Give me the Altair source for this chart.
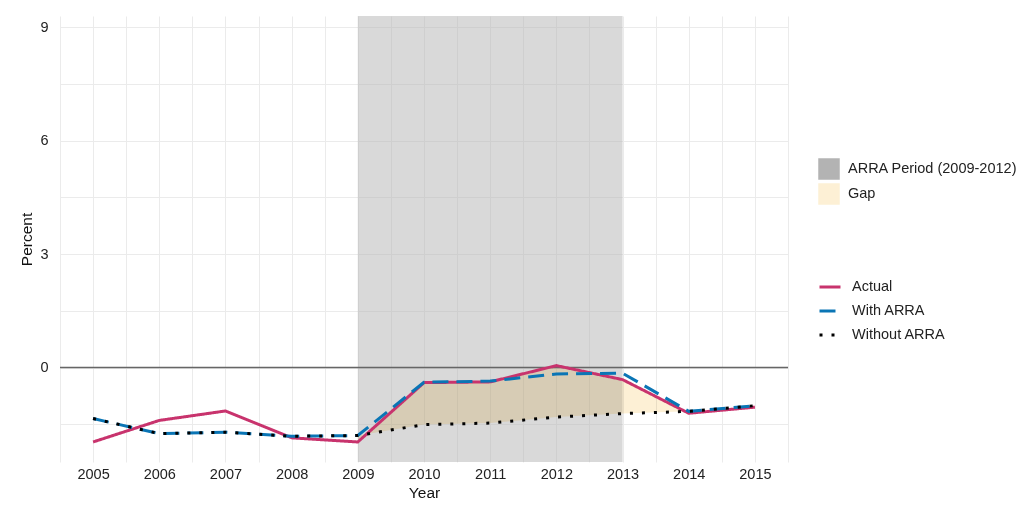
import altair as alt
import pandas as pd

# ---- data ----
years = [2005, 2006, 2007, 2008, 2009, 2010, 2011, 2012, 2013, 2014, 2015]
actual = [-1.97, -1.40, -1.15, -1.86, -1.97, -0.40, -0.38, 0.05, -0.32, -1.21, -1.05]
with_arra = [-1.35, -1.75, -1.71, -1.82, -1.80, -0.39, -0.36, -0.17, -0.15, -1.16, -1.01]
without_arra = [-1.35, -1.75, -1.71, -1.82, -1.80, -1.51, -1.47, -1.31, -1.22, -1.16, -1.01]

series_names = ["Actual", "With ARRA", "Without ARRA"]
series_colors = ["#c8336d", "#0a75b5", "#000000"]
series_dashes = [[1, 0], [16, 8], [3, 9]]

band_names = ["ARRA Period (2009-2012)", "Gap"]
band_colors = ["#b3b3b3", "#fdf0d5"]
arra_start, arra_end = 2009, 2013
gap_from, gap_to = 2009, 2014

x_ticks = [2004.5, 2005, 2005.5, 2006, 2006.5, 2007, 2007.5, 2008, 2008.5, 2009, 2009.5,
           2010, 2010.5, 2011, 2011.5, 2012, 2012.5, 2013, 2013.5, 2014, 2014.5, 2015, 2015.5]
y_ticks = [-1.5, 0, 1.5, 3, 4.5, 6, 7.5, 9]

# ---- tables ----
lines_df = pd.DataFrame(
    [{"year": y, "value": v, "series": name}
     for name, vals in zip(series_names, [actual, with_arra, without_arra])
     for y, v in zip(years, vals)]
)
gap_df = pd.DataFrame(
    [{"year": y, "hi": a, "lo": w, "band": band_names[1]}
     for y, a, w in zip(years, actual, without_arra) if gap_from <= y <= gap_to]
)
rect_df = pd.DataFrame([{"start": arra_start, "end": arra_end, "band": band_names[0]}])

FONT = "Liberation Sans"
W, H = 728, 446

xs = alt.Scale(domain=[2004.5, 2015.5], nice=False, zero=False)
ys = alt.Scale(domain=[-2.5, 9.3], nice=False, zero=False)

xaxis = alt.Axis(values=x_ticks, title="Year",
                 labelExpr="datum.value % 1 === 0 ? toString(datum.value) : ''",
                 labelPadding=5, titlePadding=5)
yaxis = alt.Axis(values=y_ticks, title="Percent",
                 labelExpr="datum.value % 3 === 0 ? datum.label : ''",
                 labelPadding=12, titlePadding=5)

fill_scale = alt.Scale(domain=band_names, range=band_colors)
fill_legend = alt.Legend(orient="none", legendX=758, legendY=142, title=None,
                         symbolType="square", symbolSize=462, symbolOpacity=1,
                         symbolStrokeWidth=0, rowPadding=3, labelOffset=8, padding=0,
                         labelLimit=0)

line_legend = alt.Legend(orient="none", legendX=758, legendY=259, title=None,
                         symbolType="stroke", symbolSize=441, symbolStrokeWidth=3,
                         rowPadding=5, labelOffset=10, padding=0, labelLimit=0)

rect = alt.Chart(rect_df).mark_rect(opacity=0.5).encode(
    x=alt.X("start:Q", scale=xs, axis=xaxis),
    x2="end:Q",
    y=alt.value(0),
    y2=alt.value(H),
    fill=alt.Fill("band:N", scale=fill_scale, legend=fill_legend),
)

gap = alt.Chart(gap_df).mark_area(blend="multiply").encode(
    x=alt.X("year:Q", scale=xs, axis=xaxis),
    y=alt.Y("hi:Q", scale=ys, axis=yaxis),
    y2="lo:Q",
    fill=alt.Fill("band:N", scale=fill_scale, legend=fill_legend),
)

zero = alt.Chart(pd.DataFrame({"v": [0]})).mark_rule(color="#666666", strokeWidth=1.3).encode(
    y=alt.Y("v:Q", scale=ys, axis=yaxis),
)

lines = alt.Chart(lines_df).mark_line(strokeWidth=3, strokeCap="butt").encode(
    x=alt.X("year:Q", scale=xs, axis=xaxis),
    y=alt.Y("value:Q", scale=ys, axis=yaxis),
    stroke=alt.Stroke("series:N", scale=alt.Scale(domain=series_names, range=series_colors),
                      legend=line_legend),
    strokeDash=alt.StrokeDash("series:N", scale=alt.Scale(domain=series_names, range=series_dashes),
                              legend=line_legend),
)

chart = alt.layer(rect, gap, zero, lines).properties(
    width=W, height=H,
    autosize=alt.AutoSizeParams(type="none"),
    padding={"left": 52, "top": 8, "right": 228, "bottom": 41},
).configure_view(stroke=None).configure_axis(
    labelFont=FONT, labelFontSize=14.5, labelColor="#222222",
    titleFont=FONT, titleFontSize=15.5, titleColor="#111111", titleFontWeight="normal",
    domain=False, ticks=False, tickSize=0,
    gridColor="#ebebeb", gridWidth=1,
).configure_legend(
    labelFont=FONT, labelFontSize=14.5, labelColor="#222222",
)

chart.save("out.html", embed_options={"renderer": "svg", "actions": False})
